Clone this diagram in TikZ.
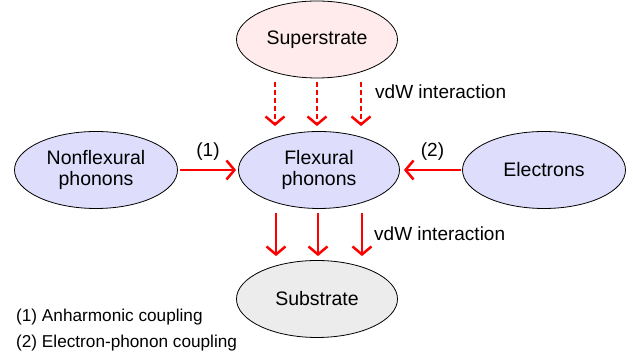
\documentclass[tikz,border=0pt]{standalone}
\usepackage{fontspec}
\setmainfont{Liberation Sans}
\usepackage{tikz}
\usetikzlibrary{shapes.geometric}
\usetikzlibrary{calc}
\usetikzlibrary{arrows.meta}

\definecolor{pinkfill}{RGB}{255,235,235}
\definecolor{bluefill}{RGB}{222,222,252}
\definecolor{greyfill}{RGB}{236,236,236}

\begin{document}
\begin{tikzpicture}[
			x=1pt, y=1pt,
			blob/.style={
					ellipse,
					draw,
					line width=0.8pt,
					inner sep=0pt,
					minimum width=161pt, % width of every ellipse
					minimum height=77pt,
					align=center,
					font=\fontsize{19.5}{21}\selectfont
				},
			flow/.style={
					red,
					line width=2.5pt,
					-{Straight Barb[length=8pt,width=19pt,line width=2.5pt]}
				},
			dashflow/.style={flow, dash pattern=on 5pt off 3pt},
			note/.style={font=\fontsize{19}{21}\selectfont, inner sep=0pt, text=black}
		]
		\useasboundingbox (0,0) rectangle (633,358);

		\node[blob, fill=pinkfill] (super) at (317, 318.5) {Superstrate};
		\node[blob, fill=bluefill] (flex) at (319, 188) {Flexural\\phonons};
		\node[blob, fill=bluefill, minimum width=163pt] (nonflex) at (96, 188) {Nonflexural\\phonons};
		\node[blob, fill=bluefill, minimum width=163pt] (elec) at (544, 188) {Electrons};
		\node[blob, fill=greyfill] (sub) at (317, 59) {Substrate};

		% vdW coupling to the superstrate (dashed)
		\foreach \dx in {-42, 0, 44} {
			\draw[dashflow] ($(super.south)+(\dx,-4)$) -- ($(flex.north)+(\dx-2,5)$);
		}
		\node[note, anchor=west] (vdwtop) at (375, 266) {vdW interaction};

		% vdW coupling to the substrate
		\foreach \dx in {-42, 0, 44} {
			\draw[flow] ($(flex.south)+(\dx-1,-4)$) -- ($(sub.north)+(\dx+1,4)$);
		}
		\node[note, anchor=west] (vdwbot) at (374, 124) {vdW interaction};

		% couplings from the sides
		\draw[flow] ($(nonflex.east)+(2,0)$) -- ($(flex.west)+(-2,0)$)
		node[note, midway, above=8pt] (one) {(1)};
		\draw[flow] ($(elec.west)+(-1,0)$) -- ($(flex.east)+(4,0)$)
		node[note, midway, above=8pt] (two) {(2)};

		\node[note, anchor=west, font=\fontsize{17.2}{19}\selectfont] (legone) at (16, 41) {(1) Anharmonic coupling};
		\node[note, anchor=west, font=\fontsize{17.2}{19}\selectfont] (legtwo) at (16, 15) {(2) Electron-phonon coupling};
	\end{tikzpicture}
\end{document}
